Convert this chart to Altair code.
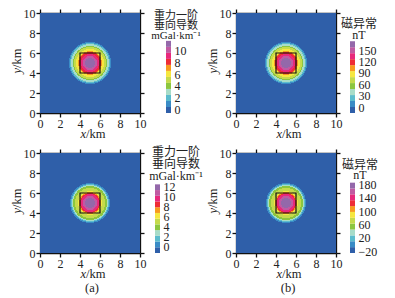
import math
import altair as alt
import pandas as pd

FONT = "Liberation Serif, Noto Sans CJK SC"
colors = ["#2f5fa9", "#3a8cc6", "#5cbccd", "#a8dcc8", "#8cc63f", "#c5da4b",
          "#f6e73f", "#f79a1e", "#ee2c36", "#e8297c", "#c05aa2", "#9468aa"]
ticks_xy = [0, 2, 4, 6, 8, 10]

prof_a1 = [11.2,11.2,11.2,11.2,11.2,10.2,10.2,9.1,9.1,8.1,8.1,7.1,6.0,6.0,5.0,5.0,4.0,3.0,3.0,2.0,0.9,-0.1,-0.1,-0.1,-0.1]
prof_b1 = [165,165,165,165,165,149,149,134,134,118,118,102,86,86,71,71,55,39,39,24,8,-7,-7,-7,-7]
prof_a2 = [11.8,11.8,11.8,11.8,11.8,10.6,10.6,9.5,9.5,8.3,7.2,6.0,4.9,4.9,4.9,3.8,3.8,2.6,1.4,0.3,-0.8,-0.8,-0.8,-0.8,-0.8]
prof_b2 = [176,176,176,176,176,158,158,141,141,123,106,88,70,70,70,53,53,35,18,0,-17,-17,-17,-17,-17]

edges_a1 = [-0.63,0.4,1.43,2.46,3.49,4.52,5.55,6.58,7.61,8.64,9.67,10.7,11.73]
edges_b1 = [-15,0.7,16.4,32,47.7,63.4,79,94.7,110.4,126,141.7,157.4,173]
edges_a2 = [-1.4,-0.25,0.9,2.05,3.2,4.35,5.5,6.65,7.8,8.95,10.1,11.25,12.4]
edges_b2 = [-26,-8.4,9.2,26.8,44.4,62,79.6,97.2,114.8,132.4,150,167.6,185]

ticks_a1 = [0,2,4,6,8,10]
ticks_b1 = [0,30,60,90,120,150]
ticks_a2 = [0,2,4,6,8,10,12]
ticks_b2 = [-20,20,60,100,140,180]

title_a = ["重力一阶", "垂向导数", "mGal·km⁻¹"]
title_b = ["磁异常", "nT"]


def cells(profile, low):
    rows = [dict(x=0, x2=10, y=0, y2=10, v=low)]
    for i in range(100):
        for j in range(100):
            r = math.hypot((i + .5) / 10 - 5, (j + .5) / 10 - 5)
            k = int(r * 10)
            if k < len(profile):
                rows.append(dict(x=i / 10, x2=(i + 1) / 10, y=j / 10, y2=(j + 1) / 10, v=profile[k]))
    return pd.DataFrame(rows)


def txt(s, x, y, size=12, style="normal", angle=0, align="center"):
    return alt.Chart(pd.DataFrame({"t": [s]})).mark_text(
        font=FONT, fontSize=size, fontStyle=style, angle=angle, align=align,
        baseline="alphabetic", color="#222", clip=False
    ).encode(x=alt.value(x), y=alt.value(y), text="t:N")


def heat(profile, edges, caption=None):
    xs = alt.Scale(domain=[0, 10], nice=False)
    com = dict(values=ticks_xy, tickColor="#111", tickWidth=1.3, tickSize=4, domainColor="#111",
               domainWidth=1.3, grid=False, title=None)
    lab = dict(format="d", labelFont=FONT, labelFontSize=12, labelColor="#222", labelPadding=1,
               labelFlush=False, labelOverlap=False)
    base = alt.Chart(cells(profile, edges[0] + .01)).mark_rect().encode(
        x=alt.X("x:Q", scale=xs, axis=alt.Axis(orient="bottom", **com, **lab)), x2="x2:Q",
        y=alt.Y("y:Q", scale=xs, axis=alt.Axis(orient="left", **com, **lab)), y2="y2:Q",
        color=alt.Color("v:Q", legend=None,
                        scale=alt.Scale(type="threshold", domain=edges[1:-1], range=colors)))
    sq = alt.Chart(pd.DataFrame(dict(x=[4], x2=[6], y=[4], y2=[6]))).mark_rect(
        filled=False, stroke="#111", strokeWidth=1.2).encode(
        x=alt.X("x:Q", scale=xs, axis=alt.Axis(orient="top", labels=False, **com)), x2="x2:Q",
        y=alt.Y("y:Q", scale=xs, axis=alt.Axis(orient="right", labels=False, **com)), y2="y2:Q")
    layers = [alt.layer(base, sq).resolve_axis(x="independent", y="independent"),
              txt("x", 46, 124.5, 12.5, "italic", align="right"), txt("/km", 46, 124.5, 12.5, align="left"),
              txt("y", -19, 55, 12.5, "italic", 270, "right"), txt("/km", -19, 55, 12.5, angle=270, align="left")]
    if caption:
        layers.append(txt(caption, 52, 139, 12.5))
    return alt.layer(*layers).properties(width=100, height=100)


def bar(edges, ticks, title_lines, title_x, title_ys, top_val, size=12):
    d = pd.DataFrame(dict(lo=edges[:-1], hi=edges[1:], c=colors, a=[0]*12, b=[1]*12))
    rects = alt.Chart(d).mark_rect().encode(
        x=alt.X("a:Q", scale=alt.Scale(domain=[0, 1], nice=False), axis=None), x2="b:Q",
        y=alt.Y("lo:Q", scale=alt.Scale(domain=[edges[0], top_val], nice=False),
                axis=alt.Axis(orient="right", values=ticks, format="d", title=None, domain=False, ticks=False,
                              labelFont=FONT, labelFontSize=12, labelColor="#222", labelPadding=3,
                              grid=False, labelOverlap=False, labelFlush=False)),
        y2="hi:Q", color=alt.Color("c:N", scale=None))
    texts = [txt(t, title_x, y, size) for t, y in zip(title_lines, title_ys)]
    return alt.layer(rects, *texts).properties(width=5, height=100)


def gap(w):
    return alt.Chart(pd.DataFrame({"s": [0]})).mark_point(opacity=0).encode(
        x=alt.value(0), y=alt.value(0)).properties(width=w, height=100)


h1 = heat(prof_a1, edges_a1)
b1 = bar(edges_a1, ticks_a1, title_a, 10, [5.5, 16, 26], 16.5, 11)
h2 = heat(prof_b1, edges_b1)
b2 = bar(edges_b1, ticks_b1, title_b, 9, [15, 26], 247)
h3 = heat(prof_a2, edges_a2, "(a)")
b3 = bar(edges_a2, ticks_a2, title_a, 21, [3, 15, 27], 18.7)
h4 = heat(prof_b2, edges_b2, "(b)")
b4 = bar(edges_b2, ticks_b2, title_b, 10, [16, 26], 274)

panels = [h1, gap(15), gap(5), gap(6), b1, gap(65), h2, gap(14), b2,
          h3, gap(15), b3, gap(6), gap(5), gap(65), h4, gap(14), b4]
chart = alt.concat(*panels, columns=9, spacing={"row": 40, "column": 0}, bounds="flush", align="each").resolve_scale(
    color="independent"
).properties(
    padding=dict(left=32, top=5, right=347, bottom=285), background="white",
    autosize=alt.AutoSizeParams(type="none")
).configure_view(stroke=None)

chart.save("out.html", embed_options={"renderer": "svg", "actions": False})
